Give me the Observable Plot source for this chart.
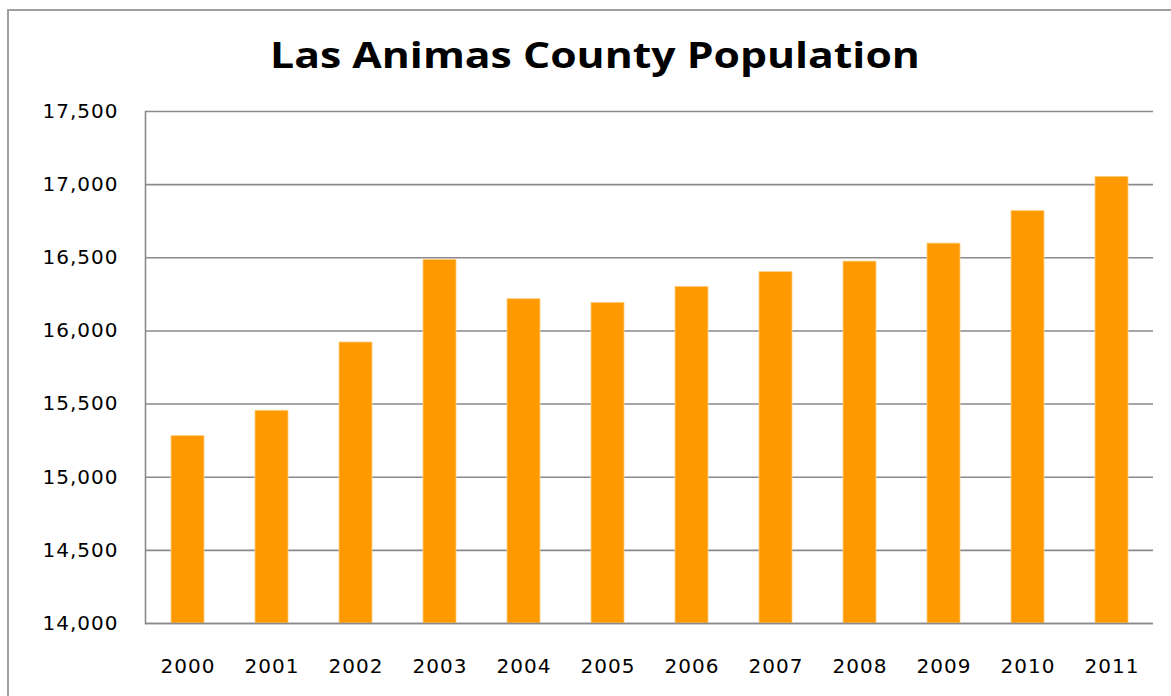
<!DOCTYPE html>
<html>
<head>
<meta charset="utf-8">
<script src="https://cdn.jsdelivr.net/npm/d3@7"></script>
<script src="https://cdn.jsdelivr.net/npm/@observablehq/plot@0.6"></script>
<style>
  html, body { margin: 0; padding: 0; background: #fff; overflow: hidden; }
  #wrap { position: relative; width: 1171px; height: 696px; }
  #border { position: absolute; left: 7px; top: 9px; width: 1200px; height: 720px;
            border-left: 2px solid #a0a0a0; border-top: 2px solid #a0a0a0; box-sizing: border-box; }
  #title { position: absolute; left: 0; top: 29px; width: 1190px; text-align: center;
           font-family: "Open Sans", sans-serif; font-weight: 700; font-size: 36.5px;
           line-height: 50px; color: #000; transform: scaleX(1.17); transform-origin: 595px 0; }
  #chart { position: absolute; left: 0; top: 80px; }
  #chart svg g[aria-label="y-axis tick label"] text { letter-spacing: 1px; }
  #chart svg g[aria-label="x-axis tick label"] text { letter-spacing: 1px; }
</style>
</head>
<body>
<div id="wrap">
  <div id="border"></div>
  <div id="title">Las Animas County Population</div>
  <div id="chart"></div>
</div>
<script>
const years = ["2000","2001","2002","2003","2004","2005","2006","2007","2008","2009","2010","2011"];
const population = [15281, 15454, 15921, 16486, 16217, 16192, 16301, 16402, 16474, 16597, 16819, 17053];
const yTicks = [14000, 14500, 15000, 15500, 16000, 16500, 17000, 17500];

const data = years.map((y, i) => ({year: y, pop: population[i]}));

const chart = Plot.plot({
  width: 1171,
  height: 616,
  marginTop: 31,
  marginBottom: 73,
  marginLeft: 145,
  marginRight: 18,
  style: {fontFamily: "DejaVu Sans, sans-serif", color: "#000", background: "transparent"},
  x: {domain: years, paddingInner: 0.61, paddingOuter: 0.305, label: null},
  y: {domain: [14000, 17500], label: null},
  marks: [
    Plot.gridY(yTicks, {stroke: "#8a8a8a", strokeOpacity: 1, strokeWidth: 1.6}),
    Plot.barY(data, {x: "year", y1: 14000, y2: "pop", fill: "#ff9900", stroke: "#ffcf80", strokeWidth: 0.8}),
    Plot.ruleY([14000], {stroke: "#8a8a8a", strokeWidth: 1.6}),
    Plot.frame({anchor: "left", stroke: "#8a8a8a", strokeWidth: 1.6}),
    Plot.axisY(yTicks, {tickSize: 0, tickPadding: 27, tickFormat: d3.format(","), fontSize: 20, label: null}),
    Plot.axisX({tickSize: 0, tickPadding: 34.8, fontSize: 20, label: null})
  ]
});
document.getElementById("chart").appendChild(chart);
</script>
</body>
</html>
